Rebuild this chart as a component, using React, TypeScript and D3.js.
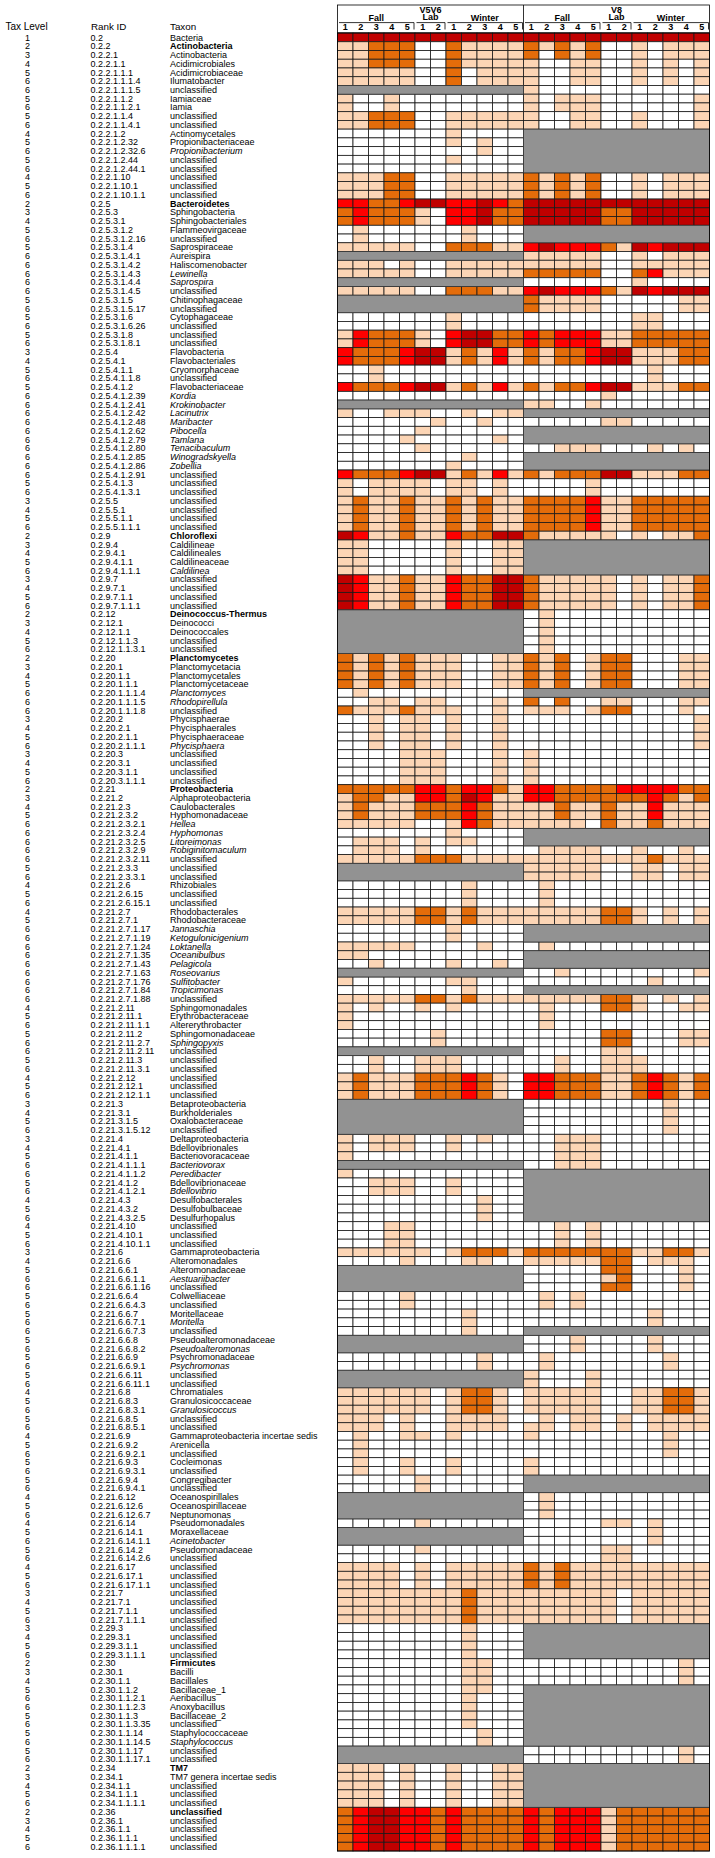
import * as React from 'react';
import * as d3 from 'd3';

// one entry per row: tax level, rank id, taxon
const taxLevels = [
  1, 2, 3, 4, 5, 6, 6, 5, 6, 5, 6, 4, 5, 6, 5, 6, 4, 5, 6,
  2, 3, 4, 5, 6, 5, 6, 6, 6, 6, 6, 5, 6, 5, 6, 5, 6, 3, 4, 5, 6, 5, 6, 6, 6, 6, 6, 6, 6, 6, 6, 6, 5, 6, 3, 4, 5, 6,
  2, 3, 4, 5, 6, 3, 4, 5, 6,
  2, 3, 4, 5, 6,
  2, 3, 4, 5, 6, 6, 6, 3, 4, 5, 6, 3, 4, 5, 6,
  2, 3, 4, 5, 6, 6, 6, 6, 6, 5, 6, 4, 5, 6, 4, 5, 6, 6, 6, 6, 6, 6, 6, 6, 6, 4, 5, 6, 5, 6, 6, 5, 6, 4, 5, 6,
  3, 4, 5, 6, 3, 4, 5, 6, 6, 5, 6, 4, 5, 6, 4, 5, 6,
  3, 4, 5, 6, 6, 5, 6, 5, 6, 6, 5, 6, 5, 6, 5, 6, 4, 5, 6, 5, 6, 4, 5, 6, 5, 6, 5, 6, 4, 5, 6, 4, 5, 6, 5, 6, 4, 5, 6,
  3, 4, 5, 6, 3, 4, 5, 6,
  2, 3, 4, 5, 6, 6, 5, 6, 5, 6, 5, 6,
  2, 3, 4, 5, 6,
  2, 3, 4, 5, 6,
];

const rankIds = [
  '0.2', '0.2.2', '0.2.2.1', '0.2.2.1.1', '0.2.2.1.1.1', '0.2.2.1.1.1.4', '0.2.2.1.1.1.5', '0.2.2.1.1.2', '0.2.2.1.1.2.1',
  '0.2.2.1.1.4', '0.2.2.1.1.4.1', '0.2.2.1.2', '0.2.2.1.2.32', '0.2.2.1.2.32.6', '0.2.2.1.2.44', '0.2.2.1.2.44.1',
  '0.2.2.1.10', '0.2.2.1.10.1', '0.2.2.1.10.1.1',
  '0.2.5', '0.2.5.3', '0.2.5.3.1', '0.2.5.3.1.2', '0.2.5.3.1.2.16', '0.2.5.3.1.4', '0.2.5.3.1.4.1', '0.2.5.3.1.4.2',
  '0.2.5.3.1.4.3', '0.2.5.3.1.4.4', '0.2.5.3.1.4.5', '0.2.5.3.1.5', '0.2.5.3.1.5.17', '0.2.5.3.1.6', '0.2.5.3.1.6.26',
  '0.2.5.3.1.8', '0.2.5.3.1.8.1', '0.2.5.4', '0.2.5.4.1', '0.2.5.4.1.1', '0.2.5.4.1.1.8', '0.2.5.4.1.2',
  '0.2.5.4.1.2.39', '0.2.5.4.1.2.41', '0.2.5.4.1.2.42', '0.2.5.4.1.2.48', '0.2.5.4.1.2.62', '0.2.5.4.1.2.79',
  '0.2.5.4.1.2.80', '0.2.5.4.1.2.85', '0.2.5.4.1.2.86', '0.2.5.4.1.2.91', '0.2.5.4.1.3', '0.2.5.4.1.3.1',
  '0.2.5.5', '0.2.5.5.1', '0.2.5.5.1.1', '0.2.5.5.1.1.1',
  '0.2.9', '0.2.9.4', '0.2.9.4.1', '0.2.9.4.1.1', '0.2.9.4.1.1.1', '0.2.9.7', '0.2.9.7.1', '0.2.9.7.1.1', '0.2.9.7.1.1.1',
  '0.2.12', '0.2.12.1', '0.2.12.1.1', '0.2.12.1.1.3', '0.2.12.1.1.3.1',
  '0.2.20', '0.2.20.1', '0.2.20.1.1', '0.2.20.1.1.1', '0.2.20.1.1.1.4', '0.2.20.1.1.1.5', '0.2.20.1.1.1.8',
  '0.2.20.2', '0.2.20.2.1', '0.2.20.2.1.1', '0.2.20.2.1.1.1', '0.2.20.3', '0.2.20.3.1', '0.2.20.3.1.1', '0.2.20.3.1.1.1',
  '0.2.21', '0.2.21.2', '0.2.21.2.3', '0.2.21.2.3.2', '0.2.21.2.3.2.1', '0.2.21.2.3.2.4', '0.2.21.2.3.2.5',
  '0.2.21.2.3.2.9', '0.2.21.2.3.2.11', '0.2.21.2.3.3', '0.2.21.2.3.3.1', '0.2.21.2.6', '0.2.21.2.6.15',
  '0.2.21.2.6.15.1', '0.2.21.2.7', '0.2.21.2.7.1', '0.2.21.2.7.1.17', '0.2.21.2.7.1.19', '0.2.21.2.7.1.24',
  '0.2.21.2.7.1.35', '0.2.21.2.7.1.43', '0.2.21.2.7.1.63', '0.2.21.2.7.1.76', '0.2.21.2.7.1.84', '0.2.21.2.7.1.88',
  '0.2.21.2.11', '0.2.21.2.11.1', '0.2.21.2.11.1.1', '0.2.21.2.11.2', '0.2.21.2.11.2.7', '0.2.21.2.11.2.11',
  '0.2.21.2.11.3', '0.2.21.2.11.3.1', '0.2.21.2.12', '0.2.21.2.12.1', '0.2.21.2.12.1.1',
  '0.2.21.3', '0.2.21.3.1', '0.2.21.3.1.5', '0.2.21.3.1.5.12', '0.2.21.4', '0.2.21.4.1', '0.2.21.4.1.1',
  '0.2.21.4.1.1.1', '0.2.21.4.1.1.2', '0.2.21.4.1.2', '0.2.21.4.1.2.1', '0.2.21.4.3', '0.2.21.4.3.2',
  '0.2.21.4.3.2.5', '0.2.21.4.10', '0.2.21.4.10.1', '0.2.21.4.10.1.1',
  '0.2.21.6', '0.2.21.6.6', '0.2.21.6.6.1', '0.2.21.6.6.1.1', '0.2.21.6.6.1.16', '0.2.21.6.6.4', '0.2.21.6.6.4.3',
  '0.2.21.6.6.7', '0.2.21.6.6.7.1', '0.2.21.6.6.7.3', '0.2.21.6.6.8', '0.2.21.6.6.8.2', '0.2.21.6.6.9',
  '0.2.21.6.6.9.1', '0.2.21.6.6.11', '0.2.21.6.6.11.1', '0.2.21.6.8', '0.2.21.6.8.3', '0.2.21.6.8.3.1',
  '0.2.21.6.8.5', '0.2.21.6.8.5.1', '0.2.21.6.9', '0.2.21.6.9.2', '0.2.21.6.9.2.1', '0.2.21.6.9.3',
  '0.2.21.6.9.3.1', '0.2.21.6.9.4', '0.2.21.6.9.4.1', '0.2.21.6.12', '0.2.21.6.12.6', '0.2.21.6.12.6.7',
  '0.2.21.6.14', '0.2.21.6.14.1', '0.2.21.6.14.1.1', '0.2.21.6.14.2', '0.2.21.6.14.2.6', '0.2.21.6.17',
  '0.2.21.6.17.1', '0.2.21.6.17.1.1',
  '0.2.21.7', '0.2.21.7.1', '0.2.21.7.1.1', '0.2.21.7.1.1.1', '0.2.29.3', '0.2.29.3.1', '0.2.29.3.1.1', '0.2.29.3.1.1.1',
  '0.2.30', '0.2.30.1', '0.2.30.1.1', '0.2.30.1.1.2', '0.2.30.1.1.2.1', '0.2.30.1.1.2.3', '0.2.30.1.1.3',
  '0.2.30.1.1.3.35', '0.2.30.1.1.14', '0.2.30.1.1.14.5', '0.2.30.1.1.17', '0.2.30.1.1.17.1',
  '0.2.34', '0.2.34.1', '0.2.34.1.1', '0.2.34.1.1.1', '0.2.34.1.1.1.1',
  '0.2.36', '0.2.36.1', '0.2.36.1.1', '0.2.36.1.1.1', '0.2.36.1.1.1.1',
];

const U = 'unclassified';
const taxa = [
  'Bacteria', 'Actinobacteria', 'Actinobacteria', 'Acidimicrobiales', 'Acidimicrobiaceae', 'Ilumatobacter', U,
  'Iamiaceae', 'Iamia', U, U, 'Actinomycetales', 'Propionibacteriaceae', 'Propionibacterium', U, U, U, U, U,
  'Bacteroidetes', 'Sphingobacteria', 'Sphingobacteriales', 'Flammeovirgaceae', U, 'Saprospiraceae', 'Aureispira',
  'Haliscomenobacter', 'Lewinella', 'Saprospira', U, 'Chitinophagaceae', U, 'Cytophagaceae', U, U, U,
  'Flavobacteria', 'Flavobacteriales', 'Cryomorphaceae', U, 'Flavobacteriaceae', 'Kordia', 'Krokinobacter',
  'Lacinutrix', 'Maribacter', 'Pibocella', 'Tamlana', 'Tenacibaculum', 'Winogradskyella', 'Zobellia', U, U, U,
  U, U, U, U,
  'Chloroflexi', 'Caldilineae', 'Caldilineales', 'Caldilineaceae', 'Caldilinea', U, U, U, U,
  'Deinococcus-Thermus', 'Deinococci', 'Deinococcales', U, U,
  'Planctomycetes', 'Planctomycetacia', 'Planctomycetales', 'Planctomycetaceae', 'Planctomyces', 'Rhodopirellula', U,
  'Phycisphaerae', 'Phycisphaerales', 'Phycisphaeraceae', 'Phycisphaera', U, U, U, U,
  'Proteobacteria', 'Alphaproteobacteria', 'Caulobacterales', 'Hyphomonadaceae', 'Hellea', 'Hyphomonas',
  'Litoreimonas', 'Robiginitomaculum', U, U, U, 'Rhizobiales', U, U, 'Rhodobacterales', 'Rhodobacteraceae',
  'Jannaschia', 'Ketogulonicigenium', 'Loktanella', 'Oceanibulbus', 'Pelagicola', 'Roseovarius', 'Sulfitobacter',
  'Tropicimonas', U, 'Sphingomonadales', 'Erythrobacteraceae', 'Altererythrobacter', 'Sphingomonadaceae',
  'Sphingopyxis', U, U, U, U, U, U,
  'Betaproteobacteria', 'Burkholderiales', 'Oxalobacteraceae', U, 'Deltaproteobacteria', 'Bdellovibrionales',
  'Bacteriovoracaceae', 'Bacteriovorax', 'Peredibacter', 'Bdellovibrionaceae', 'Bdellovibrio', 'Desulfobacterales',
  'Desulfobulbaceae', 'Desulfurhopalus', U, U, U,
  'Gammaproteobacteria', 'Alteromonadales', 'Alteromonadaceae', 'Aestuariibacter', U, 'Colwelliaceae', U,
  'Moritellaceae', 'Moritella', U, 'Pseudoalteromonadaceae', 'Pseudoalteromonas', 'Psychromonadaceae',
  'Psychromonas', U, U, 'Chromatiales', 'Granulosicoccaceae', 'Granulosicoccus', U, U,
  'Gammaproteobacteria incertae sedis', 'Arenicella', U, 'Cocleimonas', U, 'Congregibacter', U,
  'Oceanospirillales', 'Oceanospirillaceae', 'Neptunomonas', 'Pseudomonadales', 'Moraxellaceae', 'Acinetobacter',
  'Pseudomonadaceae', U, U, U, U,
  U, U, U, U, U, U, U, U,
  'Firmicutes', 'Bacilli', 'Bacillales', 'Bacillaceae_1', 'Aeribacillus', 'Anoxybacillus', 'Bacillaceae_2', U,
  'Staphylococcaceae', 'Staphylococcus', U, U,
  'TM7', 'TM7 genera incertae sedis', U, U, U,
  U, U, U, U, U,
];

const uprightGenera = ['Ilumatobacter', 'Iamia', 'Aureispira', 'Haliscomenobacter', 'Altererythrobacter',
  'Desulfurhopalus', 'Neptunomonas', 'Aeribacillus', 'Anoxybacillus'];

// abundance class per sample: 0 none, 1 low, 2 mid, 3 high, 4 very high, '-' = no data for region
const v5v6Cells = [
  '444444444444', '112220021111', '112220021111', '112220021111', '111110020111', '111110020111', '-',
  '100100000000', '100100000000', '112220011111', '112220011111', '000000010000', '000000010100',
  '000000000100', '000000010000', '000000000000', '111220011111', '111220011111', '111220011111',
  '332234433432', '232221033422', '232221033422', '010000001000', '010000001000', '111110022211', '-',
  '111010011111', '111110011111', '-', '111110022211', '-', '-', '000000010000', '000000010000',
  '132221034422', '132221034422', '322234412131', '322234412131', '001000000000', '001000000000',
  '322234412131', '000000000000', '-', '100111001011', '000000100100', '000001000000', '000010000010',
  '000001000000', '000000001000', '000000010000', '322234412131', '101111011010', '101111011010',
  '121121121211', '121121121211', '121121121211', '121121121211',
  '431121132244', '110000010011', '110000010011', '110000010011', '110000010011',
  '431121132244', '431121132244', '431121132244', '431121132244',
  '-', '-', '-', '-', '-',
  '212121110011', '212121110011', '212121110011', '212121110011', '010000000000', '001101100010',
  '211121110010', '001011010010', '001011010010', '001011010010', '001011010010',
  '000011100010', '000011100010', '000011100010', '000011100010',
  '222223323321', '122113324311', '121112223211', '121112223211', '111110013211', '000000010000',
  '011101011000', '011101000000', '111112221111', '-', '-', '000000001000', '000000001000', '000000001000',
  '111112212111', '111112212111', '000000010000', '000000010000', '111110000100', '110000000000',
  '001000010010', '-', '100000011000', '000000001000', '111112212111', '101001010000', '100000000000',
  '100000000000', '000000100000', '000000100000', '-', '001001110000', '001001110000',
  '121112223210', '121112223210', '121112223210',
  '-', '-', '-', '-', '101110010100', '101110010000', '100000000000', '-', '100000000000',
  '001110010000', '001110010000', '000000000100', '000000000100', '000000000100',
  '000110000000', '000110000000', '000110000000',
  '111111012221', '000010001100', '-', '-', '-', '000010000000', '000010000000', '000000001000',
  '000000001000', '000000001000', '-', '-', '000000000100', '000000000100', '-', '-',
  '111111012210', '111111012210', '111111012210', '111010011110', '111010011110', '010011010000',
  '010000000000', '010000000000', '010010010000', '010010010000', '000001000000', '000001000000',
  '-', '-', '-', '000001000000', '-', '-', '000001000000', '000000000000',
  '111101011111', '111101011111', '111101011111',
  '111111112111', '111111112111', '111111112111', '111111112111',
  '000000001000', '000000001000', '000000001000', '000000001000',
  '000000001100', '000000001100', '000000001100', '000000001100', '000000001000', '000000001000',
  '000000001000', '000000001000', '000000000100', '000000000100', '-', '-',
  '111010010011', '111010010011', '111010010011', '111010010011', '111010010011',
  '234433232222', '234433232222', '234433232222', '234433232222', '234433232222',
];

const v8Cells = [
  '444444444444', '212120010111', '202120010111', '100110010101', '100110010101', '100110010101',
  '100000000000', '101110000001', '101110000001', '100110010001', '100110010001', '-', '-', '-', '-', '-',
  '212120010111', '212120010111', '212120010111',
  '444444444444', '444442244444', '444442244444', '-', '-', '343332143444', '111110010111',
  '111110011111', '222220023111', '000000010000', '343332143444', '211110000011', '211110000011',
  '000000011000', '000000011000', '323331122222', '323331122222', '212234411122', '212234411122',
  '000000001000', '000000001000', '212234411122', '000001000000', '110010000000', '-', '000001100000',
  '-', '-', '001110001010', '-', '-', '212224411122', '000010000000', '000010000000',
  '222231122222', '222231122222', '222231122222', '222231122222',
  '211111010112', '-', '-', '-', '-', '211111010112', '211111010112', '211111010112', '211111010112',
  '010000000000', '010000000000', '010000000000', '010000000000', '010000000000',
  '212012200011', '212012200011', '212012200011', '212012200011', '-', '202001100011', '111012200010',
  '000000000001', '000000000001', '000000000001', '000000000001',
  '100000000000', '100000000000', '100000000000', '100000000000',
  '332222333322', '332222223212', '112112113111', '112112113111', '111102112111', '-', '-',
  '011110010010', '111111112111', '111110011011', '111110011011', '010000000000', '010000000000',
  '010000000000', '111112210101', '111112210101', '-', '-', '010000000000', '-', '-', '001000000001',
  '000000001000', '-', '111112210101', '010002210011', '010000000000', '010000000000', '000002200011',
  '000002200011', '000001100000', '001001110000', '001001110000',
  '332221123212', '332221123212', '332221123212',
  '000000000100', '000000000100', '000000000100', '000000000100', '001110000000', '001110000000',
  '001110000000', '001110000000', '-', '-', '-', '-', '-', '-', '001010000000', '001010000000',
  '001010000000',
  '222222211221', '111112201110', '000002200010', '000001200010', '000002200010', '010100000000',
  '010100000000', '000000001000', '000000001000', '-', '000100001000', '000100001000', '010000000100',
  '010000000100', '100010000000', '100010000000', '111110011221', '111110011221', '111110011221',
  '010110101111', '110110101111', '100000000100', '000000000100', '000000000100', '100000000000',
  '100000000000', '-', '-', '010000000000', '010000000000', '010000000000', '000001101000',
  '000000001000', '000000001000', '000001100000', '000001100000',
  '212111111111', '212111111111', '212111111111',
  '111111011111', '111111011111', '111111011111', '111111011111', '-', '-', '-', '-',
  '000000000010', '000000000010', '000000000010', '-', '-', '-', '-', '-', '-', '-',
  '000000000010', '000000000010',
  '-', '-', '-', '-', '-',
  '323331222222', '323331222222', '323331222222', '323331222222', '323331222222',
];

const regions = ['V5V6', 'V8'];
const seasons = ['Fall', 'Lab', 'Winter'];
const seasonSizes = [5, 2, 5];
const sampleLabels = ['1', '2', '3', '4', '5', '1', '2', '1', '2', '3', '4', '5'];

const classColors = ['#ffffff', '#fcd5b5', '#e46c0a', '#ff0000', '#c00000'];
const noDataColor = '#929292';
const font = "'Liberation Sans', Arial, sans-serif";

const App = () => {
  const nRows = taxa.length;
  const x = d3.scaleBand<number>().domain(d3.range(24)).range([337.5, 709.5]);
  const y = d3.scaleBand<number>().domain(d3.range(nRows)).range([33, 1851]);
  const cw = x.bandwidth();
  const rh = y.bandwidth();
  const headTop = 5;

  const halves = [v5v6Cells, v8Cells];

  // merged grey blocks for runs of rows without data
  const greyBlocks: { h: number; start: number; end: number }[] = [];
  halves.forEach((cells, h) => {
    let start = -1;
    cells.forEach((c, i) => {
      if (c === '-' && start < 0) start = i;
      if (c !== '-' && start >= 0) {
        greyBlocks.push({ h, start, end: i - 1 });
        start = -1;
      }
    });
    if (start >= 0) greyBlocks.push({ h, start, end: cells.length - 1 });
  });

  const seasonStarts = d3.cumsum([0, ...seasonSizes]).slice(0, 3);

  return (
    <svg width={715} height={1858} style={{ display: 'block', position: 'absolute', left: 0, top: 0 }}>
      <rect width={715} height={1858} fill='#fff' />
      <g fontFamily={font} fontSize={9} fill='#000'>
        <text x={26.5} y={30} textAnchor='middle' fontSize={10}>Tax Level</text>
        <text x={91} y={30} fontSize={9.8}>Rank ID</text>
        <text x={170} y={30} fontSize={9.8}>Taxon</text>
        {taxa.map((t, i) => {
          const ty = (y(i) as number) + rh / 2 + 3.2;
          const bold = taxLevels[i] === 2;
          const italic = taxLevels[i] === 6 && t !== U && !uprightGenera.includes(t);
          return (
            <g key={i}>
              <text x={27.5} y={ty} textAnchor='middle'>{taxLevels[i]}</text>
              <text x={90.5} y={ty}>{rankIds[i]}</text>
              <text x={170} y={ty} fontWeight={bold ? 'bold' : 'normal'} fontStyle={italic ? 'italic' : 'normal'}>
                {t}
              </text>
            </g>
          );
        })}
      </g>

      {/* header */}
      <g fontFamily={font} fontSize={9} fontWeight='bold' fill='#000'>
        <rect x={x(0)} y={headTop} width={24 * cw} height={33 - headTop} fill='#fff' stroke='#000' strokeWidth={0.8} />
        <line x1={x(12)} x2={x(12)} y1={headTop} y2={33} stroke='#000' strokeWidth={0.8} />
        {regions.map((r, h) => (
          <g key={r}>
            <text x={(x(h * 12) as number) + 6 * cw} y={12.5} textAnchor='middle'>{r}</text>
            {seasons.map((s, k) => {
              const c0 = h * 12 + seasonStarts[k];
              const x0 = x(c0) as number;
              const x1 = x0 + seasonSizes[k] * cw;
              return (
                <g key={s}>
                  <text x={(x0 + x1) / 2} y={s === 'Lab' ? 19.5 : 21} textAnchor='middle'>{s}</text>
                  <line x1={x0 + 1.5} x2={x1 - 1} y1={22.6} y2={22.6} stroke='#000' strokeWidth={0.8} />
                  <line x1={x1 - 1} x2={x1 - 1} y1={22.6} y2={29.5} stroke='#000' strokeWidth={0.8} />
                </g>
              );
            })}
            {sampleLabels.map((l, j) => (
              <text key={j} x={(x(h * 12 + j) as number) + cw / 2} y={30} textAnchor='middle'>{l}</text>
            ))}
          </g>
        ))}
      </g>

      {/* cells */}
      <g stroke='#1a1a1a' strokeWidth={0.8}>
        {halves.map((cells, h) =>
          cells.map((row, i) =>
            row === '-'
              ? null
              : row.split('').map((c, j) => (
                  <rect
                    key={`${h}-${i}-${j}`}
                    x={x(h * 12 + j)}
                    y={y(i)}
                    width={cw}
                    height={rh}
                    fill={classColors[+c]}
                  />
                ))
          )
        )}
        {greyBlocks.map((b, k) => (
          <rect
            key={k}
            x={x(b.h * 12)}
            y={y(b.start)}
            width={12 * cw}
            height={(b.end - b.start + 1) * rh}
            fill={noDataColor}
            stroke='#333'
          />
        ))}
        <rect x={x(0)} y={33} width={24 * cw} height={nRows * rh} fill='none' stroke='#000' />
      </g>
    </svg>
  );
};

export default App;
